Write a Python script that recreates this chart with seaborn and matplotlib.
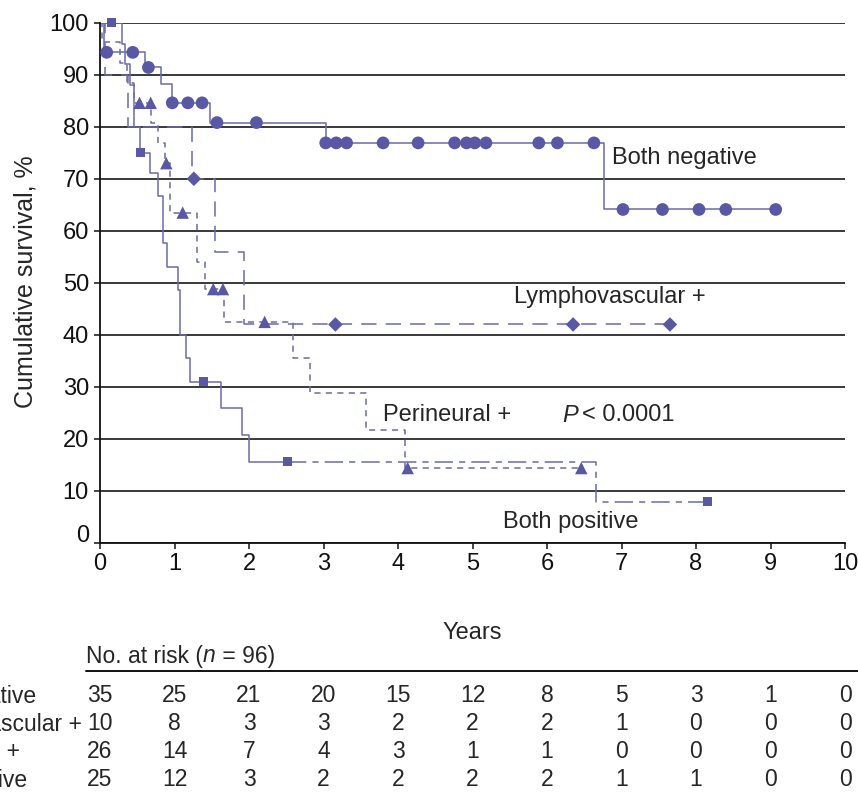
import matplotlib
matplotlib.use("Agg")
import matplotlib.pyplot as plt
import matplotlib.transforms as mtransforms
from matplotlib.lines import Line2D
import seaborn as sns
import pandas as pd

# ---------------- data ----------------
years = [0, 1, 2, 3, 4, 5, 6, 7, 8, 9, 10]
y_ticks = [0, 10, 20, 30, 40, 50, 60, 70, 80, 90, 100]
group_names = ["Both negative", "Lymphovascular +", "Perineural +", "Both positive"]

# Both negative (solid, circles)
bn_time = [0, 0.05, 0.60, 0.82, 0.97, 1.48, 3.03, 6.77]
bn_surv = [100, 94.3, 91.4, 88.3, 84.6, 80.8, 76.9, 64.1]
bn_end = 9.07
bn_cens_t = [0.09, 0.44, 0.65, 0.97, 1.18, 1.37, 1.57, 2.10,
             3.03, 3.17, 3.31, 3.80, 4.27, 4.76, 4.92, 5.03, 5.18, 5.89, 6.14, 6.63,
             7.02, 7.55, 8.04, 8.40, 9.07]
bn_cens_s = [94.3, 94.3, 91.4, 84.6, 84.6, 84.6, 80.8, 80.8,
             76.9, 76.9, 76.9, 76.9, 76.9, 76.9, 76.9, 76.9, 76.9, 76.9, 76.9, 76.9,
             64.1, 64.1, 64.1, 64.1, 64.1]

# Lymphovascular + (long dashes, diamonds)
lv_time = [0, 0.07, 0.38, 1.23, 1.54, 1.93]
lv_surv = [100, 90, 80, 70, 56, 42]
lv_end = 7.65
lv_cens_t = [1.26, 3.16, 6.35, 7.65]
lv_cens_s = [70, 42, 42, 42]

# Perineural + (short dashes, triangles)
pn_time = [0, 0.03, 0.27, 0.36, 0.45, 0.69, 0.78, 0.87, 0.94, 1.30, 1.41, 1.66,
           2.59, 2.82, 3.57, 4.09]
pn_surv = [100, 96.2, 92.3, 88.5, 84.6, 80.8, 76.9, 73.0, 63.5, 54.0, 48.8, 42.5,
           35.5, 28.8, 21.7, 14.4]
pn_end = 6.46
pn_cens_t = [0.53, 0.68, 0.89, 1.11, 1.52, 1.65, 2.21, 4.13, 6.46]
pn_cens_s = [84.6, 84.6, 73.0, 63.5, 48.8, 48.8, 42.5, 14.4, 14.4]

# Both positive (solid then dash-dot, squares)
bp_time = [0, 0.29, 0.34, 0.40, 0.45, 0.54, 0.67, 0.78, 0.85, 0.90, 1.05, 1.08,
           1.16, 1.21, 1.62, 1.91, 2.00]
bp_surv = [100, 96.0, 92.0, 88.0, 80.0, 75.0, 71.1, 66.6, 57.6, 53.1, 48.6, 40.0,
           35.5, 31.0, 25.9, 20.8, 15.6]
bp_tail_time = [2.52, 6.66]
bp_tail_surv = [15.6, 7.9]
bp_end = 8.15
bp_cens_t = [0.15, 0.54, 1.39, 2.52, 8.15]
bp_cens_s = [100, 75.0, 31.0, 15.6, 7.9]

# Number at risk table
risk_bn = [35, 25, 21, 20, 15, 12, 8, 5, 3, 1, 0]
risk_lv = [10, 8, 3, 3, 2, 2, 2, 1, 0, 0, 0]
risk_pn = [26, 14, 7, 4, 3, 1, 1, 0, 0, 0, 0]
risk_bp = [25, 12, 3, 2, 2, 2, 2, 1, 1, 0, 0]

# ---------------- style ----------------
sns.set_style("ticks")
plt.rcParams["font.family"] = ["Liberation Sans", "DejaVu Sans"]
FS = 17
TFS = 16.5
plt.rcParams["font.size"] = FS

W, H = 858, 794
fig = plt.figure(figsize=(W / 100, H / 100), dpi=100)
ax = fig.add_axes([100 / W, 1 - 543 / H, (845 - 100) / W, (543 - 22.7) / H])

LINE = "#6a6aaa"
MARK = "#5858a4"


def step_frame(t, s, end):
    return pd.DataFrame({"t": list(t) + [end], "s": list(s) + [s[-1]]})


def draw_steps(t, s, end, ls):
    df = step_frame(t, s, end)
    sns.lineplot(data=df, x="t", y="s", ax=ax, estimator=None, sort=False,
                 drawstyle="steps-post", color=LINE, linewidth=1.1,
                 linestyle=ls, zorder=2)


def draw_marks(t, s, marker, size):
    df = pd.DataFrame({"t": t, "s": s})
    sns.scatterplot(data=df, x="t", y="s", ax=ax, marker=marker, s=size,
                    color=MARK, edgecolor="none", linewidth=0, clip_on=False,
                    zorder=4)


draw_steps(bn_time, bn_surv, bn_end, "-")
draw_steps(lv_time, lv_surv, lv_end, (0, (10, 6)))
draw_steps(pn_time, pn_surv, pn_end, (0, (4, 3.5)))
draw_steps(bp_time, bp_surv, bp_tail_time[0], "-")
draw_steps(bp_tail_time, bp_tail_surv, bp_end, (0, (12, 4, 4, 4)))

draw_marks(bn_cens_t, bn_cens_s, "o", 84)
draw_marks(lv_cens_t, lv_cens_s, "D", 55)
draw_marks(pn_cens_t, pn_cens_s, "^", 80)
draw_marks(bp_cens_t, bp_cens_s, "s", 42)

# ---------------- axes ----------------
ax.set_xlim(0, 10)
ax.set_ylim(0, 100)
ax.set_xticks(years)
ax.set_yticks(y_ticks)
ax.yaxis.grid(True, color="#2a2a2a", linewidth=1.3, zorder=0)
ax.xaxis.grid(False)
ax.set_axisbelow(True)
sns.despine(ax=ax)
for sp in ["left", "bottom"]:
    ax.spines[sp].set_linewidth(1.3)
    ax.spines[sp].set_color("#111111")
ax.tick_params(axis="both", direction="out", length=4, width=1.1, colors="#111111",
               labelsize=FS, pad=3)
ax.tick_params(axis="y", pad=4)

# raise the "0" y tick label slightly as in the reference
lab0 = ax.get_yticklabels()[0]
lab0.set_transform(lab0.get_transform() +
                   mtransforms.ScaledTranslation(0, 10 / 100, fig.dpi_scale_trans))

ax.set_ylabel("Cumulative survival, %", fontsize=18)
ax.yaxis.set_label_coords((38 - 100) / 745, (543 - 282) / 520.3)
ax.set_xlabel("Years", fontsize=FS)
ax.xaxis.set_label_coords(0.5, (543 - 622) / 520.3)

# ---------------- annotations ----------------
ax.text(6.87, 73.9, "Both negative", fontsize=FS, ha="left", va="center")
ax.text(5.56, 47.3, "Lymphovascular +", fontsize=FS, ha="left", va="center")
ax.text(3.80, 24.6, "Perineural +", fontsize=FS, ha="left", va="center")
ax.text(6.21, 24.6, "P", fontsize=FS, ha="left", va="center", fontstyle="italic")
ax.text(6.47, 24.6, "< 0.0001", fontsize=FS, ha="left", va="center")
ax.text(5.41, 4.1, "Both positive", fontsize=FS, ha="left", va="center")

# ---------------- number at risk table ----------------
blend = mtransforms.blended_transform_factory(ax.transData, fig.transFigure)
t1 = fig.text(86 / W, 1 - 656 / H, "No. at risk (", fontsize=TFS, ha="left", va="center")
fig.canvas.draw()
bb = t1.get_window_extent()
t2 = fig.text(bb.x1 / W, 1 - 656 / H, "n", fontsize=TFS, ha="left", va="center",
              fontstyle="italic")
fig.canvas.draw()
bb2 = t2.get_window_extent()
fig.text(bb2.x1 / W, 1 - 656 / H, " = 96)", fontsize=TFS, ha="left", va="center")
fig.add_artist(Line2D([86 / W, 1.0], [1 - 671 / H, 1 - 671 / H], color="#111111",
                      linewidth=1.4))

row_y = [696, 724, 752, 780]
rows = [risk_bn, risk_lv, risk_pn, risk_bp]
for name, vals, yp in zip(group_names, rows, row_y):
    fig.text(-104 / W, 1 - yp / H, name, fontsize=TFS, ha="left", va="center")
    for xv, v in zip(years, vals):
        ax.text(xv, 1 - yp / H, str(v), transform=blend, fontsize=TFS,
                ha="center", va="center")

fig.savefig("out.png", dpi=100)
